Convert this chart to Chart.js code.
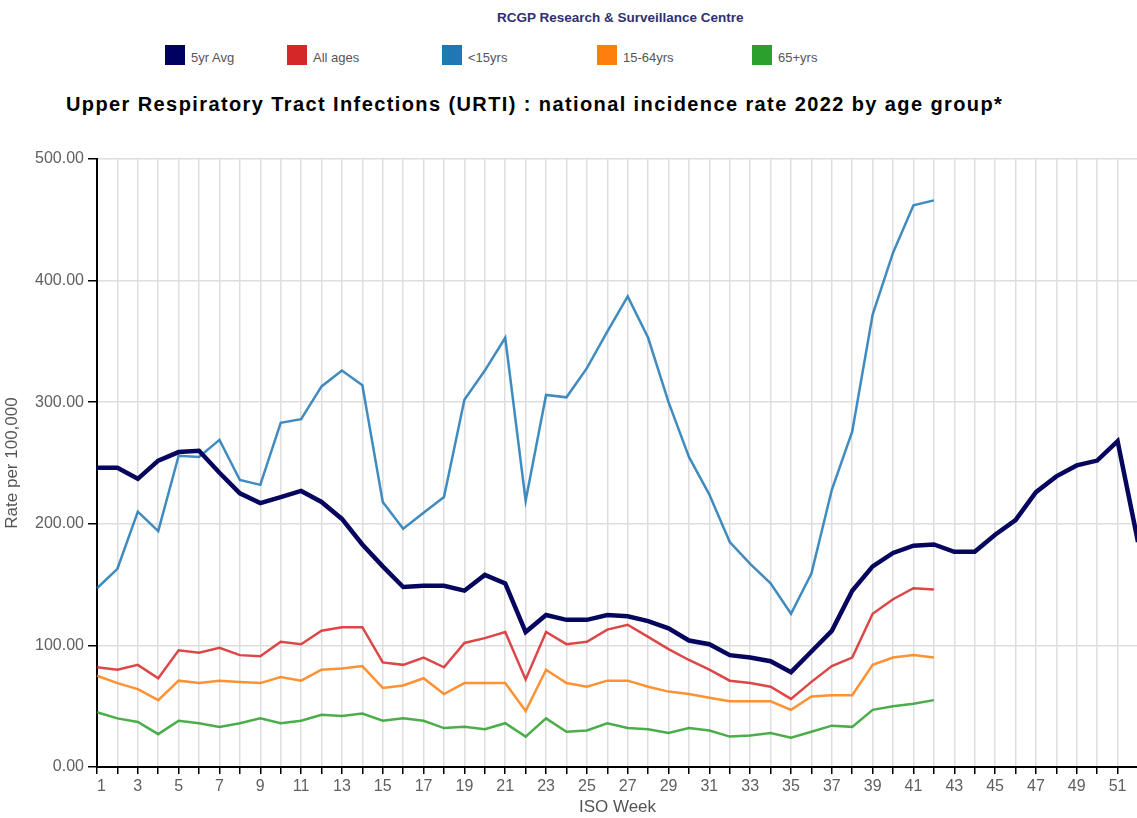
<!DOCTYPE html>
<html>
<head>
<meta charset="utf-8">
<script src="https://cdn.jsdelivr.net/npm/chart.js@4.4.0/dist/chart.umd.min.js"></script>
<style>
  body { margin: 0; background: #fff; font-family: "Liberation Sans", Arial, sans-serif; }
  #page { position: relative; width: 1137px; height: 818px; overflow: hidden; }
  #org { position: absolute; left: 497px; top: 11px; font-size: 13.5px; line-height: 13.5px; font-weight: bold; color: #303070; white-space: nowrap; }
  .key { position: absolute; top: 45px; width: 20px; height: 20px; }
  .keytxt { position: absolute; top: 48px; font-size: 13px; line-height: 20px; color: #555; white-space: nowrap; }
  #title { position: absolute; left: 66px; top: 94px; font-size: 20px; line-height: 20px; letter-spacing: 1.4px; font-weight: bold; color: #000; white-space: nowrap; }
  #wrap { position: absolute; left: 0; top: 140px; width: 1141px; height: 678px; }
</style>
</head>
<body>
<div id="page">
  <div id="org">RCGP Research &amp; Surveillance Centre</div>
  <div id="legend"></div>
  <div id="title">Upper Respiratory Tract Infections (URTI) : national incidence rate 2022 by age group*</div>
  <div id="wrap"><canvas id="urtiChart"></canvas></div>
</div>

<script>
// ISO weeks on the x axis
var weeks = [1,2,3,4,5,6,7,8,9,10,11,12,13,14,15,16,17,18,19,20,21,22,23,24,25,26,
             27,28,29,30,31,32,33,34,35,36,37,38,39,40,41,42,43,44,45,46,47,48,49,50,51,52]
var yTicks = [0, 100, 200, 300, 400, 500]

// rates per 100,000 (2022 series stop at week 42)
var avg5yr = [246, 246, 237, 252, 259, 260, 242, 225, 217, 222, 227, 218, 204, 183, 165, 148, 149, 149, 145, 158,
              151, 111, 125, 121, 121, 125, 124, 120, 114, 104, 101, 92, 90, 87, 78, 95, 112, 145, 165, 176,
              182, 183, 177, 177, 191, 203, 226, 239, 248, 252, 268, 185]
var allAges = [82, 80, 84, 73, 96, 94, 98, 92, 91, 103, 101, 112, 115, 115, 86, 84, 90, 82, 102, 106,
               111, 72, 111, 101, 103, 113, 117, 107, 97, 88, 80, 71, 69, 66, 56, 70, 83, 90, 126, 138, 147, 146]
var under15 = [147, 163, 210, 194, 256, 255, 269, 236, 232, 283, 286, 313, 326, 314, 218, 196, 209, 222, 302, 326,
               353, 219, 306, 304, 328, 358, 387, 353, 300, 255, 224, 185, 167, 151, 126, 159, 228, 276, 372, 423, 462, 466]
var age15to64 = [75, 69, 64, 55, 71, 69, 71, 70, 69, 74, 71, 80, 81, 83, 65, 67, 73, 60, 69, 69,
                 69, 46, 80, 69, 66, 71, 71, 66, 62, 60, 57, 54, 54, 54, 47, 58, 59, 59, 84, 90, 92, 90]
var age65plus = [45, 40, 37, 27, 38, 36, 33, 36, 40, 36, 38, 43, 42, 44, 38, 40, 38, 32, 33, 31,
                 36, 25, 40, 29, 30, 36, 32, 31, 28, 32, 30, 25, 26, 28, 24, 29, 34, 33, 47, 50, 52, 55]

var seriesNames = ['5yr Avg', 'All ages', '<15yrs', '15-64yrs', '65+yrs']
var keyColours = ['#000060', '#d62728', '#1f77b4', '#ff7f0e', '#2ca02c']
var lineColours = ['#06065e', 'rgba(214,39,40,0.85)', 'rgba(31,119,180,0.85)', 'rgba(255,127,14,0.85)', 'rgba(44,160,44,0.85)']
var keyX = [165, 287, 442, 597, 752]

// legend row (html, above the chart)
var legend = document.getElementById('legend')
for (let i = 0; i < seriesNames.length; i++) {
    var sq = document.createElement('div')
    sq.className = 'key'
    sq.style.left = keyX[i] + 'px'
    sq.style.background = keyColours[i]
    legend.appendChild(sq)
    var tx = document.createElement('div')
    tx.className = 'keytxt'
    tx.style.left = (keyX[i] + 26) + 'px'
    tx.textContent = seriesNames[i]
    legend.appendChild(tx)
}

var allSeries = [avg5yr, allAges, under15, age15to64, age65plus]
var datasets = []
for (let i = 0; i < allSeries.length; i++) {
    datasets.push({
        label: seriesNames[i],
        data: allSeries[i],
        borderColor: lineColours[i],
        backgroundColor: lineColours[i],
        borderWidth: i == 0 ? 4.5 : 2.5,
        pointRadius: 0,
        tension: 0,
        fill: false,
        order: i
    })
}

var ctx = document.getElementById('urtiChart').getContext('2d')
var urtiChart = new Chart(ctx, {
    type: 'line',
    data: { labels: weeks, datasets: datasets },
    options: {
        responsive: true,
        maintainAspectRatio: false,
        animation: false,
        layout: { padding: { top: 19, right: 0, bottom: 0, left: 0 } },
        plugins: { legend: { display: false }, tooltip: { enabled: false } },
        scales: {
            x: {
                grid: { color: '#dedede', lineWidth: 1.5, tickColor: '#000', tickLength: 7, tickWidth: 1.5 },
                border: { color: '#000', width: 2 },
                ticks: {
                    autoSkip: false, maxRotation: 0, align: 'inner', padding: 3,
                    color: '#606060', font: { size: 16, family: '"Liberation Sans", Arial' },
                    callback: function (val, idx) { return idx % 2 == 0 ? weeks[idx] : '' }
                },
                title: { display: true, text: 'ISO Week', color: '#555', padding: { top: 0, bottom: 0 },
                         font: { size: 17, family: '"Liberation Sans", Arial' } },
                afterFit: function (scale) { scale.height = 51 }
            },
            y: {
                min: yTicks[0],
                max: yTicks[yTicks.length - 1],
                grid: { color: '#dedede', lineWidth: 1.5, tickColor: '#000', tickLength: 9, tickWidth: 1.5 },
                border: { color: '#000', width: 2 },
                ticks: {
                    stepSize: 100, padding: 4,
                    color: '#606060', font: { size: 16, family: '"Liberation Sans", Arial' },
                    callback: function (v) { return yTicks.indexOf(v) > -1 ? v.toFixed(2) : '' }
                },
                title: { display: true, text: 'Rate per 100,000', color: '#555', padding: { top: 2, bottom: 0 },
                         font: { size: 17, family: '"Liberation Sans", Arial' } },
                afterFit: function (scale) { scale.width = 97 }
            }
        }
    }
})
</script>
</body>
</html>
